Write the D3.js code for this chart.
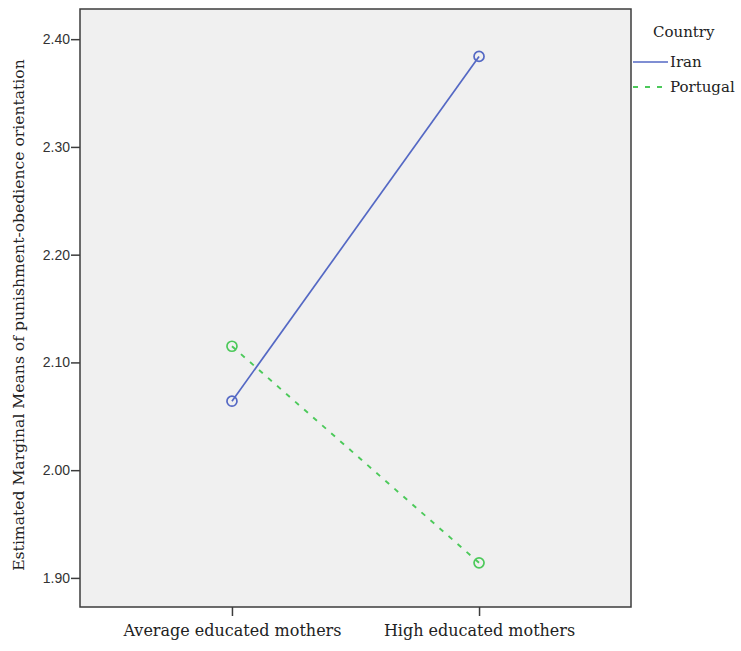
<!DOCTYPE html>
<html>
<head>
<meta charset="utf-8">
<script src="https://cdn.jsdelivr.net/npm/d3@7"></script>
<style>
  body { margin: 0; background: #fff; }
  svg { display: block; }
</style>
</head>
<body>
<svg id="chart" width="741" height="651"></svg>
<script>
// Estimated marginal means by mother's education level, per country
const categories = ["Average educated mothers", "High educated mothers"];
const countries = ["Iran", "Portugal"];
const iranValues = [2.064, 2.384];
const portugalValues = [2.115, 1.914];
const yTicks = [1.90, 2.00, 2.10, 2.20, 2.30, 2.40];

const seriesColors = ["#5468c4", "#4cc95a"];
const seriesDash = [null, "5,7"];
const seriesWidth = [1.7, 1.9];
const seriesValues = [iranValues, portugalValues];

const svg = d3.select("#chart");
const margin = { left: 80, top: 9, right: 110, bottom: 44 };
const W = 741, H = 651;
const plotW = W - margin.left - margin.right;
const plotH = H - margin.top - margin.bottom;

const x = d3.scalePoint().domain(categories).range([0, plotW]).padding(0.615);
const y = d3.scaleLinear().domain([1.873, 2.428]).range([plotH, 0]);

const g = svg.append("g").attr("transform", `translate(${margin.left},${margin.top})`);

// plot background and frame
g.append("rect")
  .attr("x", 0).attr("y", 0).attr("width", plotW).attr("height", plotH)
  .attr("fill", "#f0f0f0").attr("stroke", "#3c3c3c").attr("stroke-width", 1.5);

// y axis
const yAxis = g.append("g")
  .call(d3.axisLeft(y).tickValues(yTicks).tickFormat(d3.format(".2f")).tickSize(9).tickSizeOuter(0));
yAxis.select(".domain").remove();
yAxis.selectAll(".tick line").attr("stroke", "#3c3c3c").attr("stroke-width", 1.5);
yAxis.selectAll(".tick text")
  .attr("x", -10)
  .attr("fill", "#333")
  .style("font-family", "'Liberation Sans', Arial, sans-serif")
  .style("font-size", "14px");

// x axis
const xAxis = g.append("g")
  .attr("transform", `translate(0,${plotH})`)
  .call(d3.axisBottom(x).tickSize(9).tickSizeOuter(0));
xAxis.select(".domain").remove();
xAxis.selectAll(".tick line").attr("stroke", "#3c3c3c").attr("stroke-width", 1.5);
xAxis.selectAll(".tick text")
  .attr("y", 18)
  .attr("fill", "#222")
  .style("font-family", "'DejaVu Serif', serif")
  .style("font-size", "16px");

// y axis title
svg.append("text")
  .attr("transform", `translate(24,315) rotate(-90)`)
  .attr("text-anchor", "middle")
  .attr("fill", "#222")
  .style("font-family", "'DejaVu Serif', serif")
  .style("font-size", "15.6px")
  .text("Estimated Marginal Means of punishment-obedience orientation");

// series lines and markers
const line = d3.line().x((d, i) => x(categories[i])).y(d => y(d));
seriesValues.forEach((vals, s) => {
  g.append("path")
    .datum(vals)
    .attr("d", line)
    .attr("fill", "none")
    .attr("stroke", seriesColors[s])
    .attr("stroke-width", seriesWidth[s])
    .attr("stroke-dasharray", seriesDash[s]);
  g.selectAll(null)
    .data(vals)
    .enter().append("circle")
    .attr("cx", (d, i) => x(categories[i]))
    .attr("cy", d => y(d))
    .attr("r", 5)
    .attr("fill", "none")
    .attr("stroke", seriesColors[s])
    .attr("stroke-width", 1.7);
});

// legend
const lg = svg.append("g").attr("transform", `translate(${margin.left + plotW},0)`);
lg.append("text")
  .attr("x", 22).attr("y", 37)
  .attr("fill", "#222")
  .style("font-family", "'DejaVu Serif', serif")
  .style("font-size", "15px")
  .text("Country");
countries.forEach((c, i) => {
  const yy = 62 + i * 25;
  lg.append("line")
    .attr("x1", 2).attr("x2", 37).attr("y1", yy).attr("y2", yy)
    .attr("stroke", seriesColors[i])
    .attr("stroke-width", seriesWidth[i])
    .attr("stroke-dasharray", seriesDash[i]);
  lg.append("text")
    .attr("x", 39).attr("y", yy + 5)
    .attr("fill", "#222")
    .style("font-family", "'DejaVu Serif', serif")
    .style("font-size", "15px")
    .text(c);
});
</script>
</body>
</html>
